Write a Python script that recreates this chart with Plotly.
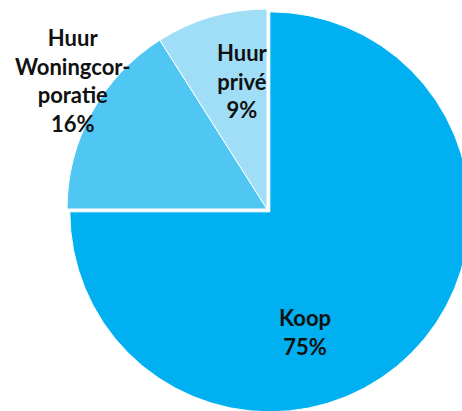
import plotly.graph_objects as go

# Data
categories = ["Koop", "Huur Woningcorporatie", "Huur privé"]
label_lines = ["Koop", "Huur<br>Woningcor-<br>poratie", "Huur<br>privé"]
values = [75, 16, 9]
colors = ["#00B0F0", "#50C6F3", "#A0DEF8"]

W, H = 480, 420
cx, cy, r = 267, 209, 200
pull = [0.02, 0, 0]
half = r * (1 + max(pull))

fig = go.Figure(go.Pie(
    labels=categories,
    values=values,
    sort=False,
    direction="clockwise",
    rotation=0,
    pull=pull,
    marker=dict(colors=colors, line=dict(color="white", width=1)),
    textinfo="none",
    hoverinfo="label+percent",
    showlegend=False,
    domain=dict(x=[(cx - half) / W, (cx + half) / W],
                y=[1 - (cy + half) / H, 1 - (cy - half) / H]),
))

# label positions in pixels (label centres)
label_pos = [(305, 332), (72, 81), (242, 81)]
total = sum(values)
for txt, v, (px, py) in zip(label_lines, values, label_pos):
    fig.add_annotation(
        x=px / W, y=1 - py / H, xref="paper", yref="paper",
        text=f"{txt}<br>{round(100 * v / total)}%",
        showarrow=False, align="center",
        xanchor="center", yanchor="middle",
        font=dict(family="Lato", size=22, color="#111111", weight=700),
    )

fig.update_layout(
    width=W, height=H,
    margin=dict(l=0, r=0, t=0, b=0),
    paper_bgcolor="white", plot_bgcolor="white",
)

fig.write_html(
    "out.html",
    config={"displayModeBar": False},
    post_script="document.documentElement.style.overflow='hidden';"
                "document.body.style.overflow='hidden';"
                "document.body.style.margin='0';",
)
